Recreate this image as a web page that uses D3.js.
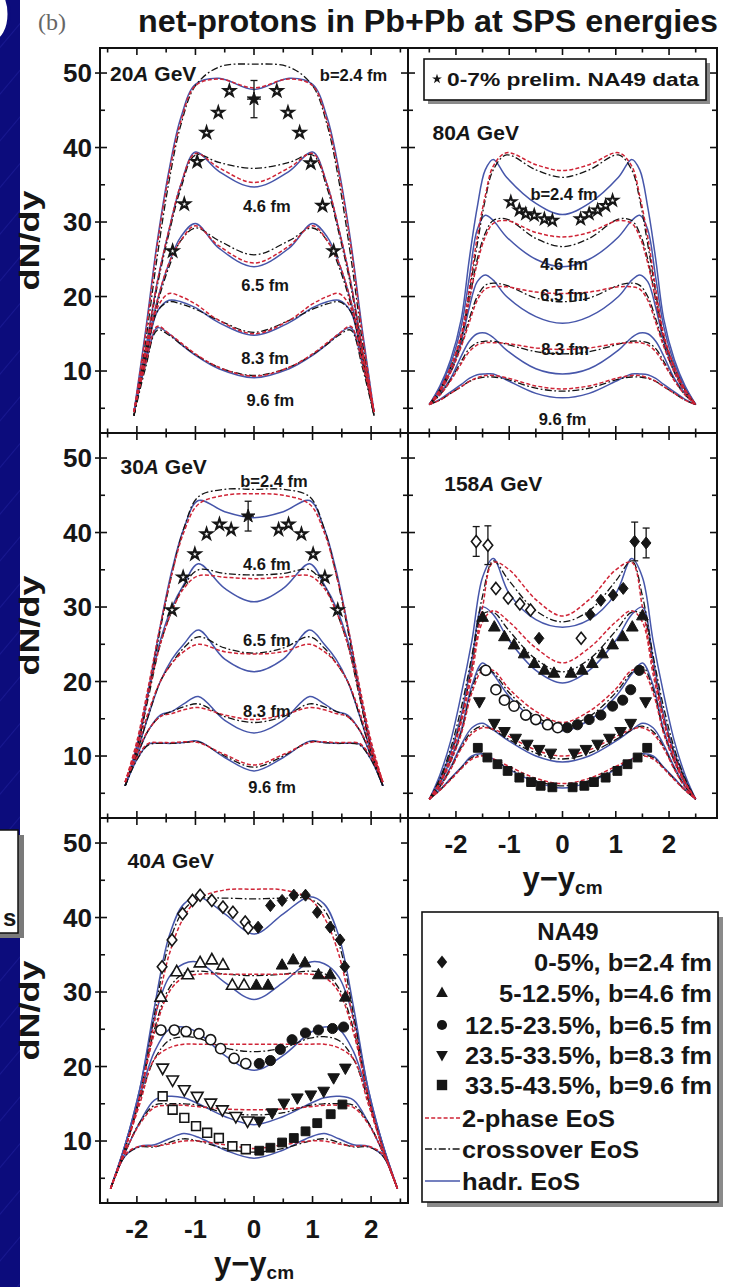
<!DOCTYPE html>
<html><head><meta charset="utf-8">
<script src="https://cdn.jsdelivr.net/npm/d3@7/dist/d3.min.js"></script>
<style>html,body{margin:0;padding:0;background:#fff;}svg{display:block;}</style>
</head><body>
<script>
// ================= DATA =================
// rapidity grids (y - y_cm) of the model curves, one per beam energy
const rap20=[-2.05,-1.85,-1.65,-1.45,-1.25,-1.0,-0.6,0,0.6,1.0,1.25,1.45,1.65,1.85,2.05];
const rap30=[-2.2,-2.0,-1.8,-1.6,-1.4,-1.2,-0.95,-0.5,0,0.5,0.95,1.2,1.4,1.6,1.8,2.0,2.2];
const rap40=[-2.45,-2.2,-1.95,-1.7,-1.45,-1.2,-0.95,-0.5,0,0.5,0.95,1.2,1.45,1.7,1.95,2.2,2.45];
const rap80=[-2.5,-2.3,-2.1,-1.9,-1.75,-1.6,-1.45,-1.3,-1.05,-0.5,0,0.5,1.05,1.3,1.45,1.6,1.75,1.9,2.1,2.3,2.5];
const rap158=[-2.5,-2.3,-2.1,-1.9,-1.7,-1.5,-1.3,-1.0,-0.5,0,0.5,1.0,1.3,1.5,1.7,1.9,2.1,2.3,2.5];

// dN/dy model curves: tp = 2-phase EoS, co = crossover EoS, ha = hadronic EoS; suffix = impact parameter b
// 20A GeV
const tp20_24=[4.5,15,27,36.5,43.5,48.3,49.2,48.0,49.2,48.3,43.5,36.5,27,15,4.5];
const ha20_24=[4.5,15.5,27.5,37,44,48.5,49.3,47.8,49.3,48.5,44,37,27.5,15.5,4.5];
const co20_24=[4,14,25.5,35.5,43,48.3,50.8,51.2,50.8,48.3,43,35.5,25.5,14,4];
const tp20_46=[4.5,13,22,29,35,39.2,37.3,35.3,37.3,39.2,35,29,22,13,4.5];
const ha20_46=[4.5,13,22,29,35,39.4,36.8,34.7,36.8,39.4,35,29,22,13,4.5];
const co20_46=[4,12.5,21.5,28.5,34.5,39,38,37.2,38,39,34.5,28.5,21.5,12.5,4];
const tp20_65=[4.5,12.5,19.5,24.5,27.5,29.5,26.8,24.5,26.8,29.5,27.5,24.5,19.5,12.5,4.5];
const ha20_65=[4.5,12.5,19.5,24.5,28,29.8,26.5,24,26.5,29.8,28,24.5,19.5,12.5,4.5];
const co20_65=[4,12,19,24,27.5,29.2,27.5,25.6,27.5,29.2,27.5,24,19,12,4];
const tp20_83=[4.5,12,18.5,20.4,20,19,16.8,15,16.8,19,20,20.4,18.5,12,4.5];
const ha20_83=[4.5,11.5,18,19.5,19.3,18.5,16.5,14.8,16.5,18.5,19.3,19.5,18,11.5,4.5];
const co20_83=[4,11.5,18,19.3,19,18.3,16.8,15.2,16.8,18.3,19,19.3,18,11.5,4];
const tp20_96=[4.5,11,16,15,13.8,12.3,10.5,9.3,10.5,12.3,13.8,15,16,11,4.5];
const ha20_96=[4.5,11,15.8,15,13.6,12.1,10.3,9.1,10.3,12.1,13.6,15,15.8,11,4.5];
const co20_96=[4,10.5,15.5,14.8,13.6,12.2,10.5,9.4,10.5,12.2,13.6,14.8,15.5,10.5,4];
// 30A GeV
const ha30_24=[6,11.5,19,27.5,35,40.5,44.3,42.8,42,42.8,44.3,40.5,35,27.5,19,11.5,6];
const tp30_24=[6.5,12,19.5,27.5,34.5,40,43.8,45,45.2,45,43.8,40,34.5,27.5,19.5,12,6.5];
const co30_24=[6,11,18.5,27,34.5,40.5,44.8,45.8,45.8,45.8,44.8,40.5,34.5,27,18.5,11,6];
const ha30_46=[6,11,18.5,25.5,30,33,35.8,32.5,30.7,32.5,35.8,33,30,25.5,18.5,11,6];
const tp30_46=[6.5,11.5,18.5,25,29.5,32.5,34.2,34,33.8,34,34.2,32.5,29.5,25,18.5,11.5,6.5];
const co30_46=[6,11,18,25,29.5,32.8,35,34.5,34.3,34.5,35,32.8,29.5,25,18,11,6];
const ha30_65=[6,10.5,15.5,20,23,25,26.9,23,21.3,23,26.9,25,23,20,15.5,10.5,6];
const tp30_65=[6.5,11,16,20,22.5,24,25,24,23.7,24,25,24,22.5,20,16,11,6.5];
const co30_65=[6,10.5,15.5,20,22.5,24.5,26,24.5,23.8,24.5,26,24.5,22.5,20,15.5,10.5,6];
const ha30_83=[6,10,13.5,15.5,16,17,18,14.8,13.1,14.8,18,17,16,15.5,13.5,10,6];
const tp30_83=[6.5,10.5,13.5,15.3,15.7,16.2,16.5,15.5,14.9,15.5,16.5,16.2,15.7,15.3,13.5,10.5,6.5];
const co30_83=[6,10,13.5,15.3,16,16.6,17,15.3,14.5,15.3,17,16.6,16,15.3,13.5,10,6];
const ha30_96=[6,9.5,11.6,11.7,11.7,11.8,12,9.8,8,9.8,12,11.8,11.7,11.7,11.6,9.5,6];
const tp30_96=[6.5,9.8,11.7,11.8,11.8,11.9,11.8,10.2,8.8,10.2,11.8,11.9,11.8,11.8,11.7,9.8,6.5];
const co30_96=[6,9.5,11.5,11.7,11.7,11.8,11.9,10,8.5,10,11.9,11.8,11.7,11.7,11.5,9.5,6];
// 40A GeV
const ha40_24=[3.6,9.5,17,28,37.5,41.8,42.8,40.5,37.8,40.5,42.8,41.8,37.5,28,17,9.5,3.6];
const co40_24=[3.6,9,16,27,36.5,41,42.5,42.6,42.5,42.6,42.5,41,36.5,27,16,9,3.6];
const tp40_24=[3.6,9,16,26,35,40,42.5,43.7,43.8,43.7,42.5,40,35,26,16,9,3.6];
const ha40_46=[3.6,9.5,17,26.5,32,33.8,34,31.3,29,31.3,34,33.8,32,26.5,17,9.5,3.6];
const co40_46=[3.6,9,16,25,30.5,32.5,32.8,32.4,32.2,32.4,32.8,32.5,30.5,25,16,9,3.6];
const tp40_46=[3.6,9,16,24.5,30,32,32.4,32.4,32.4,32.4,32.4,32,30,24.5,16,9,3.6];
const ha40_65=[3.6,9.5,16,22,25,25.3,24.5,21.5,19.5,21.5,24.5,25.3,25,22,16,9.5,3.6];
const co40_65=[3.6,9,15.5,21,23.5,24,23.8,22.5,22,22.5,23.8,24,23.5,21,15.5,9,3.6];
const tp40_65=[3.6,9,15,21,22.5,23,23,23,23,23,23,23,22.5,21,15,9,3.6];
const ha40_83=[3.6,8.5,12.5,15.5,16,15.8,15,13.3,12.2,13.3,15,15.8,16,15.5,12.5,8.5,3.6];
const co40_83=[3.6,8.5,12.5,14.8,15,15,14.8,13.8,13.5,13.8,14.8,15,15,14.8,12.5,8.5,3.6];
const tp40_83=[3.6,8.5,12.3,14.5,14.8,14.8,14.6,14.3,14.2,14.3,14.6,14.8,14.8,14.5,12.3,8.5,3.6];
const ha40_96=[3.6,8,9.3,9.5,10.3,11,10.5,8.8,7.7,8.8,10.5,11,10.3,9.5,9.3,8,3.6];
const co40_96=[3.6,8,9.2,9.2,9.8,10.3,10,9,8.5,9,10,10.3,9.8,9.2,9.2,8,3.6];
const tp40_96=[3.6,8.2,9.3,9.3,9.6,10,10,9.5,9,9.5,10,10,9.6,9.3,9.3,8.2,3.6];
// 80A GeV
const ha80_24=[5.5,8,11.5,17,25,32,37,38.4,36,32.5,31,32.5,36,38.4,37,32,25,17,11.5,8,5.5];
const tp80_24=[5.5,7.5,10.5,15,21,28,33.5,37.5,39.3,37.7,36.9,37.7,39.3,37.5,33.5,28,21,15,10.5,7.5,5.5];
const co80_24=[5.5,7.5,10.5,14.5,20.5,27,33,37,39,37,36,37,39,37,33,27,20.5,14.5,10.5,7.5,5.5];
const ha80_46=[5.5,7.8,11,16,22.5,29,30.9,30.2,28,25,24,25,28,30.2,30.9,29,22.5,16,11,7.8,5.5];
const tp80_46=[5.5,7.5,10.5,14.5,19.5,24.5,28,29.8,30.2,28.6,28,28.6,30.2,29.8,28,24.5,19.5,14.5,10.5,7.5,5.5];
const co80_46=[5.5,7.5,10.5,14.5,19.5,25,28.5,30.2,30.4,27.8,26.7,27.8,30.4,30.2,28.5,25,19.5,14.5,10.5,7.5,5.5];
const ha80_65=[5.5,7.5,10,14,18.5,22,22.9,22.2,20,17.3,16.4,17.3,20,22.2,22.9,22,18.5,14,10,7.5,5.5];
const tp80_65=[5.5,7.2,9.8,13.3,16.5,19.5,21,21.3,21.3,20.6,20.4,20.6,21.3,21.3,21,19.5,16.5,13.3,9.8,7.2,5.5];
const co80_65=[5.5,7.2,9.8,13.5,17,20,21.5,21.8,21.5,19.8,19.3,19.8,21.5,21.8,21.5,20,17,13.5,9.8,7.2,5.5];
const ha80_83=[5.5,7,9,12,14,15,15.1,14.5,12.8,10.3,9.6,10.3,12.8,14.5,15.1,15,14,12,9,7,5.5];
const tp80_83=[5.5,6.8,8.7,11,12.6,13.5,13.8,13.8,13.7,13.1,12.9,13.1,13.7,13.8,13.8,13.5,12.6,11,8.7,6.8,5.5];
const co80_83=[5.5,6.8,8.8,11.3,13,13.8,14,14,13.6,12.6,12.3,12.6,13.6,14,14,13.8,13,11.3,8.8,6.8,5.5];
const ha80_96=[5.5,6.2,7.2,8.2,9,9.5,9.6,9.6,8.8,7,6.4,7,8.8,9.6,9.6,9.5,9,8.2,7.2,6.2,5.5];
const tp80_96=[5.5,6.1,7,7.9,8.6,9.1,9.4,9.4,9.1,8,7.6,8,9.1,9.4,9.4,9.1,8.6,7.9,7,6.1,5.5];
const co80_96=[5.5,6.1,7,7.9,8.6,9,9.2,9.2,8.9,7.7,7.3,7.7,8.9,9.2,9.2,9,8.6,7.9,7,6.1,5.5];
// 158A GeV
const ha158_24=[4.2,7.5,12,18.3,25.5,34,36.5,31.8,28.3,27.3,28.3,31.8,36.5,34,25.5,18.3,12,7.5,4.2];
const tp158_24=[4.2,6.5,10,15,22,30,36,35,31,28.8,31,35,36,30,22,15,10,6.5,4.2];
const co158_24=[4.2,7,11,16.5,23.5,31.5,36.2,33.5,29.5,28,29.5,33.5,36.2,31.5,23.5,16.5,11,7,4.2];
const ha158_46=[4.2,7,10.5,15.5,23,30,29,25.5,21.5,19.8,21.5,25.5,29,30,23,15.5,10.5,7,4.2];
const tp158_46=[4.2,6.5,9.8,14.5,21,28,29.5,28,24.5,22.5,24.5,28,29.5,28,21,14.5,9.8,6.5,4.2];
const co158_46=[4.2,6.8,10.2,15,22,29,29.3,26.8,23,21.3,23,26.8,29.3,29,22,15,10.2,6.8,4.2];
const ha158_65=[4.2,6.5,9.5,13.5,19.5,22.5,21,18,14.8,13.4,14.8,18,21,22.5,19.5,13.5,9.5,6.5,4.2];
const tp158_65=[4.2,6.3,9.2,13,18.5,21.5,21.5,19,16,14.5,16,19,21.5,21.5,18.5,13,9.2,6.3,4.2];
const co158_65=[4.2,6.4,9.3,13.2,19,22,21.2,18.5,15.3,14,15.3,18.5,21.2,22,19,13.2,9.3,6.4,4.2];
const ha158_83=[4.2,6,8.5,11.5,13.8,14.4,13.5,12,10,9.2,10,12,13.5,14.4,13.8,11.5,8.5,6,4.2];
const tp158_83=[4.2,5.8,8.2,11,13,13.8,13.6,12.6,10.8,10,10.8,12.6,13.6,13.8,13,11,8.2,5.8,4.2];
const co158_83=[4.2,5.9,8.3,11.2,13.3,14,13.5,12.2,10.4,9.6,10.4,12.2,13.5,14,13.3,11.2,8.3,5.9,4.2];
const ha158_96=[4.2,5.5,7,8.5,10,10.3,9.6,8.2,6.5,5.7,6.5,8.2,9.6,10.3,10,8.5,7,5.5,4.2];
const tp158_96=[4.2,5.4,6.8,8.3,9.6,10,9.6,8.6,7,6.3,7,8.6,9.6,10,9.6,8.3,6.8,5.4,4.2];
const co158_96=[4.2,5.4,6.9,8.4,9.8,10.1,9.5,8.3,6.7,6,6.7,8.3,9.5,10.1,9.8,8.4,6.9,5.4,4.2];

// preliminary NA49 0-7% data (stars): [y-ycm, dN/dy]
const star20=[[-1.39,26.1],[-1.19,32.4],[-0.97,38.1],[-0.81,42],[-0.61,44.7],[-0.42,47.6],[0.39,47.6],[0.58,44.7],[0.78,42],[0.97,37.9],[1.17,32.2],[1.36,26.1]];
const star20c=[[0,46.5]];
const err20=[[0,46.5,2.5]];
const star30=[[-1.40,29.6],[-1.21,34],[-1.01,37.1],[-0.81,39.8],[-0.59,41.1],[-0.39,40.4],[0.42,40.4],[0.59,41.1],[0.81,39.8],[1.01,37.1],[1.21,34],[1.43,29.6]];
const star30c=[[-0.1,42.2]];
const err30=[[-0.1,42.2,2]];
const star80=[[-0.97,32.7],[-0.81,31.6],[-0.69,31.1],[-0.53,30.9],[-0.34,30.4],[-0.19,30.2],[0.34,30.4],[0.5,31.1],[0.66,31.6],[0.81,32.2],[0.94,32.9]];

// NA49 centrality classes, 40A GeV (L = reflected, open; R = measured, filled)
const na40_24L=[[-1.57,33.4],[-1.40,37],[-1.22,40.5],[-1.05,42.3],[-0.92,43],[-0.72,42.3],[-0.53,41.4],[-0.36,40.7],[-0.15,39.4],[-0.1,38.6]];
const na40_24R=[[0.07,38.7],[0.28,41.6],[0.48,42.3],[0.68,43],[0.88,43],[1.08,40.7],[1.3,38.7],[1.47,37],[1.55,33.4]];
const na40_46L=[[-1.59,29.3],[-1.32,32.7],[-1.13,32.3],[-0.92,33.9],[-0.72,34.3],[-0.53,33.6],[-0.37,30.9],[-0.17,30.9]];
const na40_46R=[[0.04,30.9],[0.24,30.9],[0.48,33.6],[0.67,34.3],[0.87,33.9],[1.1,32.3],[1.3,32.3],[1.56,29.3]];
const na40_65L=[[-1.59,24.9],[-1.36,24.9],[-1.16,24.7],[-0.94,24.4],[-0.74,23.6],[-0.57,22.4],[-0.34,21.1],[-0.14,20.4]];
const na40_65R=[[0.09,20.4],[0.28,20.8],[0.45,22.3],[0.65,23.6],[0.88,24.5],[1.1,24.9],[1.34,25.1],[1.53,25.3]];
const na40_83L=[[-1.56,19.8],[-1.39,18.2],[-1.19,16.9],[-0.97,16],[-0.74,15.1],[-0.54,14.2],[-0.31,13.3],[-0.11,12.7]];
const na40_83R=[[0.09,12.7],[0.31,13.8],[0.51,15.1],[0.74,15.8],[0.97,16.2],[1.19,16.7],[1.36,18.5],[1.56,19.8]];
const na40_96L=[[-1.56,16],[-1.39,14.2],[-1.19,13.1],[-0.99,12],[-0.8,11.1],[-0.6,10.4],[-0.37,9.3],[-0.14,8.9]];
const na40_96R=[[0.09,8.7],[0.28,9.1],[0.48,9.8],[0.68,10.4],[0.88,11.3],[1.08,12.4],[1.31,13.6],[1.51,14.9]];

// NA49 centrality classes, 158A GeV
const na158_24L=[[-1.62,38.8],[-1.40,38.3],[-1.25,32.5],[-1.02,31.2],[-0.8,30.4],[-0.6,29.6],[0.35,25.8]];
const na158_24R=[[-0.44,25.8],[0.52,29],[0.72,30.9],[0.95,31.6],[1.14,32.5],[1.355,38.8],[1.57,38.6]];
const err158=[[-1.62,38.8,2],[-1.40,38.3,2.6],[1.355,38.8,2.6],[1.57,38.6,2]];
const na158_46=[[-1.5,28.6],[-1.28,27.3],[-1.09,26],[-0.91,24.9],[-0.72,23.7],[-0.53,22.4],[-0.34,21.5],[-0.16,21.1],[0.16,21.1],[0.37,21.5],[0.56,22.4],[0.75,23.7],[0.94,24.9],[1.13,26],[1.31,27.3],[1.5,28.8]];
const na158_65L=[[-1.44,21.5],[-1.25,18.9],[-1.09,17.5],[-0.91,16.7],[-0.69,15.5],[-0.5,14.9],[-0.28,14.2],[-0.09,13.8]];
const na158_65R=[[0.09,13.8],[0.28,14.2],[0.5,14.9],[0.72,15.5],[0.94,16.7],[1.13,17.5],[1.28,18.9],[1.44,21.5]];
const na158_83=[[-1.56,17.3],[-1.28,14.4],[-1.09,13.3],[-0.88,12.4],[-0.66,11.6],[-0.44,10.9],[-0.22,10.4],[0.22,10.4],[0.44,10.9],[0.66,11.6],[0.88,12.4],[1.09,13.3],[1.28,14.4],[1.56,17.3]];
const na158_96=[[-1.59,11.1],[-1.41,9.8],[-1.22,8.9],[-1.03,8],[-0.81,7.1],[-0.59,6.5],[-0.41,6],[-0.19,5.8],[0.19,5.8],[0.41,6],[0.59,6.5],[0.81,7.1],[1.03,8],[1.22,8.9],[1.41,9.8],[1.59,11.1]];

// axis ticks & labels
const yTickVals=[5,10,15,20,25,30,35,40,45,50];
const yTickLabels=[10,20,30,40,50];
const xTickVals=[-2.5,-2,-1.5,-1,-0.5,0,0.5,1,1.5,2,2.5];
const xTickLabels=[-2,-1,0,1,2];
const bNames=['b=2.4 fm','4.6 fm','6.5 fm','8.3 fm','9.6 fm'];
const legendRows=['0-5%, b=2.4 fm','5-12.5%, b=4.6 fm','12.5-23.5%, b=6.5 fm','23.5-33.5%, b=8.3 fm','33.5-43.5%, b=9.6 fm'];
const legendShapes=['diamond','tri','circle','tridown','square'];
const legendLines=['2-phase EoS','crossover EoS','hadr. EoS'];

// ================= DRAW =================
const W=730,H=1287;
const FONT='"Liberation Sans", Arial, Helvetica, sans-serif';
const INK='#161616', RED='#cf2436', BLUE='#4656aa', DD='#141414', NAVY='#0c0c7c';
const svg=d3.select('body').append('svg').attr('width',W).attr('height',H);
const defs=svg.append('defs');
svg.append('rect').attr('width',W).attr('height',H).attr('fill','#fff');

// slide background strip on the left
const pat=defs.append('pattern').attr('id','hatch').attr('width',30).attr('height',30)
  .attr('patternUnits','userSpaceOnUse').attr('patternTransform','rotate(40)');
pat.append('rect').attr('width',30).attr('height',30).attr('fill',NAVY);
pat.append('line').attr('x1',0).attr('y1',0).attr('x2',0).attr('y2',30).attr('stroke','#2b2bb0').attr('stroke-width',0.8);
svg.append('rect').attr('x',0).attr('y',0).attr('width',20).attr('height',H).attr('fill','url(#hatch)');
svg.append('ellipse').attr('cx',-6).attr('cy',14).attr('rx',15).attr('ry',27).attr('fill','#fff').attr('stroke',NAVY).attr('stroke-width',3);
svg.append('rect').attr('x',-6).attr('y',835).attr('width',30).attr('height',103).attr('fill','#7a7a7a');
svg.append('rect').attr('x',-6).attr('y',830).attr('width',24).attr('height',103).attr('fill','#fff').attr('stroke','#111').attr('stroke-width',1.5);
svg.append('text').attr('x',3).attr('y',926).attr('font-family',FONT).attr('font-weight','bold').attr('font-size',24).attr('fill',INK).text('s');

// titles
svg.append('text').attr('x',38).attr('y',30).attr('font-family','"Liberation Serif", "Times New Roman", serif')
  .attr('font-size',24).attr('fill','#666').text('(b)');
svg.append('text').attr('x',138).attr('y',32).attr('font-family',FONT).attr('font-weight','bold')
  .attr('font-size',31).attr('fill',INK).attr('textLength',580).attr('lengthAdjust','spacingAndGlyphs')
  .text('net-protons in Pb+Pb at SPS energies');

const colX=[d3.scaleLinear([-2.63,2.63],[100,408]), d3.scaleLinear([-2.9,2.9],[408,717])];
const rowTop=[48,433,818];
const yScale=r=>d3.scaleLinear([1.68,53.36],[rowTop[r]+385,rowTop[r]]);

function shapePath(t,r){
  if(t==='diamond') return `M0,${-r}L${0.8*r},0L0,${r}L${-0.8*r},0Z`;
  if(t==='tri') return `M0,${-r}L${0.9*r},${0.6*r}L${-0.9*r},${0.6*r}Z`;
  if(t==='tridown') return `M0,${r}L${0.9*r},${-0.6*r}L${-0.9*r},${-0.6*r}Z`;
  if(t==='square') return `M${-0.8*r},${-0.8*r}h${1.6*r}v${1.6*r}h${-1.6*r}Z`;
  if(t==='circle') return `M${0.78*r},0A${0.78*r},${0.78*r} 0 1,1 ${-0.78*r},0A${0.78*r},${0.78*r} 0 1,1 ${0.78*r},0Z`;
  return d3.symbol(d3.symbolStar, r*r*1.15)();
}

const panels=[
 {c:0,r:0,rap:rap20,ha:[ha20_24,ha20_46,ha20_65,ha20_83,ha20_96],co:[co20_24,co20_46,co20_65,co20_83,co20_96],tp:[tp20_24,tp20_46,tp20_65,tp20_83,tp20_96],
  e:'20',ep:[-2.46,50],bp:[[1.7,49.7],[0.22,32.2],[0.19,21.6],[0.19,11.8],[0.28,6.1]],
  marks:[{d:star20,s:'star',open:true,r:5.6,sw:2.1},{d:star20c,s:'star',open:false,r:7}],errs:err20,xerr:0.12},
 {c:0,r:1,rap:rap30,ha:[ha30_24,ha30_46,ha30_65,ha30_83,ha30_96],co:[co30_24,co30_46,co30_65,co30_83,co30_96],tp:[tp30_24,tp30_46,tp30_65,tp30_83,tp30_96],
  e:'30',ep:[-2.28,48.9],bp:[[0.34,46.9],[0.22,35.8],[0.22,25.6],[0.22,16],[0.31,5.8]],
  marks:[{d:star30,s:'star',open:true,r:5.6,sw:2.1},{d:star30c,s:'star',open:false,r:7}],errs:err30,xerr:0.1},
 {c:0,r:2,rap:rap40,ha:[ha40_24,ha40_46,ha40_65,ha40_83,ha40_96],co:[co40_24,co40_46,co40_65,co40_83,co40_96],tp:[tp40_24,tp40_46,tp40_65,tp40_83,tp40_96],
  e:'40',ep:[-2.16,47.6],bp:null,xlab:true,
  marks:[{d:na40_24L,s:'diamond',open:true,r:6},{d:na40_24R,s:'diamond',open:false,r:6},
         {d:na40_46L,s:'tri',open:true,r:6.5},{d:na40_46R,s:'tri',open:false,r:6.5},
         {d:na40_65L,s:'circle',open:true,r:6.5},{d:na40_65R,s:'circle',open:false,r:6.5},
         {d:na40_83L,s:'tridown',open:true,r:6.5},{d:na40_83R,s:'tridown',open:false,r:6.5},
         {d:na40_96L,s:'square',open:true,r:5.5},{d:na40_96R,s:'square',open:false,r:5.5}],errs:[]},
 {c:1,r:0,rap:rap80,ha:[ha80_24,ha80_46,ha80_65,ha80_83,ha80_96],co:[co80_24,co80_46,co80_65,co80_83,co80_96],tp:[tp80_24,tp80_46,tp80_65,tp80_83,tp80_96],
  e:'80',ep:[-2.44,42],bp:[[0.03,33.8],[0.03,24.4],[0.03,20.2],[0.05,12.9],[0,3.6]],
  marks:[{d:star80,s:'star',open:true,r:5.4,sw:2}],errs:[]},
 {c:1,r:1,rap:rap158,ha:[ha158_24,ha158_46,ha158_65,ha158_83,ha158_96],co:[co158_24,co158_46,co158_65,co158_83,co158_96],tp:[tp158_24,tp158_46,tp158_65,tp158_83,tp158_96],
  e:'158',ep:[-2.22,46.6],bp:null,xlab:true,
  marks:[{d:na158_24L,s:'diamond',open:true,r:6},{d:na158_24R,s:'diamond',open:false,r:6},
         {d:na158_46,s:'tri',open:false,r:6.5},
         {d:na158_65L,s:'circle',open:true,r:6.5},{d:na158_65R,s:'circle',open:false,r:6.5},
         {d:na158_83,s:'tridown',open:false,r:6.5},
         {d:na158_96,s:'square',open:false,r:5.5}],errs:err158}
];

panels.forEach((p,i)=>{
  const x=colX[p.c], y=yScale(p.r);
  const [x0,x1]=x.range(), yb=y.range()[0], yt=y.range()[1];
  const g=svg.append('g');
  defs.append('clipPath').attr('id','cp'+i).append('rect').attr('x',x0).attr('y',yt).attr('width',x1-x0).attr('height',yb-yt);
  const cg=g.append('g').attr('clip-path',`url(#cp${i})`);
  const ln=d3.line().curve(d3.curveCatmullRom.alpha(0.5)).x((d,j)=>x(p.rap[j])).y(d=>y(d));
  p.ha.forEach(a=>cg.append('path').attr('d',ln(a)).attr('fill','none').attr('stroke',BLUE).attr('stroke-width',1.5));
  p.co.forEach(a=>cg.append('path').attr('d',ln(a)).attr('fill','none').attr('stroke',DD).attr('stroke-width',1.3).attr('stroke-dasharray','7,2.5,1.8,2.5'));
  p.tp.forEach(a=>cg.append('path').attr('d',ln(a)).attr('fill','none').attr('stroke',RED).attr('stroke-width',1.5).attr('stroke-dasharray','4,2.2'));

  // error bars
  p.errs.forEach(e=>{
    const ex=x(e[0]);
    g.append('line').attr('x1',ex).attr('x2',ex).attr('y1',y(e[1]-e[2])).attr('y2',y(e[1]+e[2])).attr('stroke',INK).attr('stroke-width',1.3);
    [e[1]-e[2],e[1]+e[2]].forEach(v=>g.append('line').attr('x1',ex-3.5).attr('x2',ex+3.5).attr('y1',y(v)).attr('y2',y(v)).attr('stroke',INK).attr('stroke-width',1.3));
    if(p.xerr) g.append('line').attr('x1',x(e[0]-p.xerr)).attr('x2',x(e[0]+p.xerr)).attr('y1',y(e[1])).attr('y2',y(e[1])).attr('stroke',INK).attr('stroke-width',1.3);
  });
  // data markers
  p.marks.forEach(m=>{
    g.append('g').selectAll('path').data(m.d).join('path')
      .attr('d',shapePath(m.s,m.r))
      .attr('transform',d=>`translate(${x(d[0])},${y(d[1])})`)
      .attr('fill',m.open?'#fff':INK).attr('stroke',INK).attr('stroke-width',m.sw||(m.open?1.6:1));
  });

  // frame & ticks
  g.append('rect').attr('x',x0).attr('y',yt).attr('width',x1-x0).attr('height',yb-yt).attr('fill','none').attr('stroke','#111').attr('stroke-width',2);
  const tk=(a,b,c,d)=>g.append('line').attr('x1',a).attr('y1',b).attr('x2',c).attr('y2',d).attr('stroke','#111').attr('stroke-width',1.6);
  xTickVals.forEach(t=>{const L=Number.isInteger(t)?7:4.5; tk(x(t),yb,x(t),yb-L); tk(x(t),yt,x(t),yt+L);});
  yTickVals.forEach(t=>{const L=t%10===0?7:5; tk(x0,y(t),x0+L,y(t)); tk(x1,y(t),x1-L,y(t));
    if(p.c===0 && t%10===0) tk(x0-5,y(t),x0,y(t));});

  // axis labels
  if(p.c===0){
    yTickLabels.forEach(t=>g.append('text').attr('x',x0-8).attr('y',y(t)).attr('dy','0.36em').attr('text-anchor','end')
      .attr('font-family',FONT).attr('font-weight','bold').attr('font-size',26).attr('fill',INK).text(t));
    g.append('text').attr('transform',`translate(39,${(yt+yb)/2}) rotate(-90)`).attr('text-anchor','middle')
      .attr('font-family',FONT).attr('font-weight','bold').attr('font-size',27).attr('textLength',100).attr('lengthAdjust','spacingAndGlyphs')
      .attr('fill',INK).text('dN/dy');
  }
  if(p.xlab){
    xTickLabels.forEach(t=>g.append('text').attr('x',x(t)).attr('y',yb+26).attr('dy','0.36em').attr('text-anchor','middle')
      .attr('font-family',FONT).attr('font-weight','bold').attr('font-size',26).attr('fill',INK).text(t));
    const tt=g.append('text').attr('x',x(0)).attr('y',yb+71).attr('text-anchor','middle')
      .attr('font-family',FONT).attr('font-weight','bold').attr('font-size',31).attr('fill',INK);
    tt.append('tspan').text('y\u2212y');
    tt.append('tspan').attr('font-size',19).attr('dy',5).text('cm');
  }
  // energy label
  const et=g.append('text').attr('x',x(p.ep[0])).attr('y',y(p.ep[1])).attr('dy','0.36em')
    .attr('font-family',FONT).attr('font-weight','bold').attr('font-size',21).attr('fill',INK);
  et.append('tspan').text(p.e);
  et.append('tspan').attr('font-style','italic').text('A');
  et.append('tspan').text(' GeV');
  // impact parameter labels
  if(p.bp) p.bp.forEach((b,k)=>g.append('text').attr('x',x(b[0])).attr('y',y(b[1])).attr('dy','0.36em').attr('text-anchor','middle')
      .attr('font-family',FONT).attr('font-weight','bold').attr('font-size',16.5).attr('fill',INK).text(bNames[k]));
});

// legend in the 80A panel
svg.append('rect').attr('x',428).attr('y',63).attr('width',282).attr('height',41).attr('fill','#8a8a8a');
svg.append('rect').attr('x',424).attr('y',59).attr('width',282).attr('height',41).attr('fill','#fff').attr('stroke','#111').attr('stroke-width',1.6);
svg.append('path').attr('d',d3.symbol(d3.symbolStar,30)()).attr('transform','translate(437,79)').attr('fill',INK);
svg.append('text').attr('x',447).attr('y',86).attr('font-family',FONT).attr('font-weight','bold').attr('font-size',19)
  .attr('textLength',252).attr('lengthAdjust','spacingAndGlyphs').attr('fill',INK).text('0-7% prelim. NA49 data');

// main legend
svg.append('rect').attr('x',427).attr('y',917).attr('width',296).attr('height',290).attr('fill','#8a8a8a');
svg.append('rect').attr('x',422).attr('y',912).attr('width',296).attr('height',290).attr('fill','#fff').attr('stroke','#111').attr('stroke-width',1.6);
svg.append('text').attr('x',568).attr('y',940).attr('text-anchor','middle').attr('font-family',FONT).attr('font-weight','bold')
  .attr('font-size',24).attr('fill',INK).text('NA49');
const rowY=[962,993,1025,1055,1085];
const rowW=[178,213,247,247,247];
legendRows.forEach((s,k)=>{
  svg.append('path').attr('d',shapePath(legendShapes[k],6.5)).attr('transform',`translate(442,${rowY[k]})`).attr('fill',INK);
  svg.append('text').attr('x',712).attr('y',rowY[k]).attr('dy','0.36em').attr('text-anchor','end')
    .attr('font-family',FONT).attr('font-weight','bold').attr('font-size',24).attr('fill',INK)
    .attr('textLength',rowW[k]).attr('lengthAdjust','spacingAndGlyphs').text(s);
});
const lineY=[1118,1149,1181];
const lineW=[153,177,118];
const lineSty=[{c:RED,d:'4,2.2',w:1.5},{c:DD,d:'7,2.5,1.8,2.5',w:1.3},{c:BLUE,d:null,w:1.5}];
legendLines.forEach((s,k)=>{
  svg.append('line').attr('x1',425).attr('x2',460).attr('y1',lineY[k]).attr('y2',lineY[k])
    .attr('stroke',lineSty[k].c).attr('stroke-width',lineSty[k].w).attr('stroke-dasharray',lineSty[k].d);
  svg.append('text').attr('x',462).attr('y',lineY[k]).attr('dy','0.36em')
    .attr('font-family',FONT).attr('font-weight','bold').attr('font-size',24).attr('fill',INK)
    .attr('textLength',lineW[k]).attr('lengthAdjust','spacingAndGlyphs').text(s);
});
</script></body></html>
